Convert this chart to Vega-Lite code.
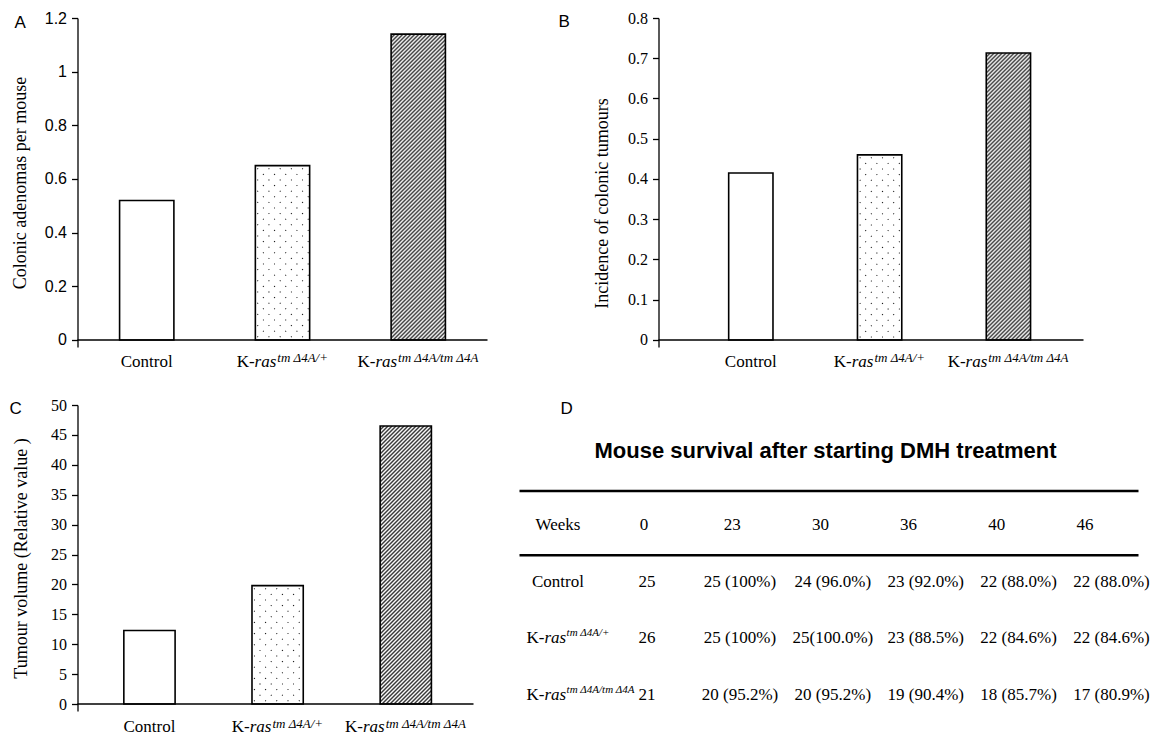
{
"$schema": "https://vega.github.io/schema/vega-lite/v6.json",
"background": "white",
"padding": {"left": 9.5, "top": 10, "right": 0, "bottom": 0},
"config": {
 "view": {"stroke": null},
 "text": {"font": "Liberation Serif", "fontSize": 17, "color": "black", "baseline": "alphabetic"},
 "axis": {"grid": false, "domainColor": "black", "domainWidth": 1.3, "tickColor": "black", "tickWidth": 1.3, "tickSize": 6, "labelPadding": 5, "labelColor": "black", "labelFlush": false, "labelFont": "Liberation Serif", "labelFontSize": 16, "titleFont": "Liberation Serif", "titleFontSize": 18, "titleFontWeight": "normal", "titleColor": "black", "minExtent": 35, "maxExtent": 35}
},
"datasets": {
 "adenomas": [{"group": "Control", "value": 0.52}, {"group": "K-ras tmΔ4A/+", "value": 0.65}, {"group": "K-ras tmΔ4A/tmΔ4A", "value": 1.14}],
 "incidence": [{"group": "Control", "value": 0.415}, {"group": "K-ras tmΔ4A/+", "value": 0.46}, {"group": "K-ras tmΔ4A/tmΔ4A", "value": 0.713}],
 "volume": [{"group": "Control", "value": 12.3}, {"group": "K-ras tmΔ4A/+", "value": 19.8}, {"group": "K-ras tmΔ4A/tmΔ4A", "value": 46.5}],
 "genotypes": [
  {"group": "Control", "prefix": "Control", "gene": "", "sup": ""},
  {"group": "K-ras tmΔ4A/+", "prefix": "K-", "gene": "ras", "sup": "tm Δ4A/+"},
  {"group": "K-ras tmΔ4A/tmΔ4A", "prefix": "K-", "gene": "ras", "sup": "tm Δ4A/tm Δ4A"}
 ],
 "survival": [
  {"group": "Control", "week": "0", "cell": "25"},
  {"group": "Control", "week": "23", "cell": "25 (100%)"},
  {"group": "Control", "week": "30", "cell": "24 (96.0%)"},
  {"group": "Control", "week": "36", "cell": "23 (92.0%)"},
  {"group": "Control", "week": "40", "cell": "22 (88.0%)"},
  {"group": "Control", "week": "46", "cell": "22 (88.0%)"},
  {"group": "K-ras tmΔ4A/+", "week": "0", "cell": "26"},
  {"group": "K-ras tmΔ4A/+", "week": "23", "cell": "25 (100%)"},
  {"group": "K-ras tmΔ4A/+", "week": "30", "cell": "25(100.0%)"},
  {"group": "K-ras tmΔ4A/+", "week": "36", "cell": "23 (88.5%)"},
  {"group": "K-ras tmΔ4A/+", "week": "40", "cell": "22 (84.6%)"},
  {"group": "K-ras tmΔ4A/+", "week": "46", "cell": "22 (84.6%)"},
  {"group": "K-ras tmΔ4A/tmΔ4A", "week": "0", "cell": "21"},
  {"group": "K-ras tmΔ4A/tmΔ4A", "week": "23", "cell": "20 (95.2%)"},
  {"group": "K-ras tmΔ4A/tmΔ4A", "week": "30", "cell": "20 (95.2%)"},
  {"group": "K-ras tmΔ4A/tmΔ4A", "week": "36", "cell": "19 (90.4%)"},
  {"group": "K-ras tmΔ4A/tmΔ4A", "week": "40", "cell": "18 (85.7%)"},
  {"group": "K-ras tmΔ4A/tmΔ4A", "week": "46", "cell": "17 (80.9%)"}
 ]
},
"spacing": 27,
"vconcat": [
{"bounds": "flush", "spacing": 171, "hconcat": [
 {"width": 410, "height": 329, "data": {"name": "adenomas"}, "layer": [
  {"transform": [{"filter": "datum.group === 'Control'"}], "mark": {"type": "bar", "fill": "white", "stroke": "black", "strokeWidth": 1.6},
   "encoding": {"x": {"field": "group", "type": "nominal", "scale": {"type": "band", "domain": ["Control", "K-ras tmΔ4A/+", "K-ras tmΔ4A/tmΔ4A"], "paddingInner": 0.6, "paddingOuter": 0.31}, "axis": null},
    "y": {"field": "value", "type": "quantitative", "scale": {"domain": [-0.0261, 1.2], "nice": false, "zero": false}, "axis": {"title": "Colonic adenomas per mouse", "values": [0, 0.2, 0.4, 0.6, 0.8, 1, 1.2], "format": "~g", "labelFont": "Liberation Sans", "titlePadding": 13.5}},
    "y2": {"datum": 0}}},
  {"transform": [{"filter": "datum.group === 'K-ras tmΔ4A/+'"}], "mark": {"type": "bar", "fill": {"gradient": "linear", "x1": 0, "y1": 1, "x2": 0.65101, "y2": -1.09088, "stops": [
{"offset":0.0105,"color":"#fff"},{"offset":0.014,"color":"#000"},{"offset":0.0175,"color":"#fff"},{"offset":0.0385,"color":"#fff"},{"offset":0.042,"color":"#000"},{"offset":0.0455,"color":"#fff"},{"offset":0.0665,"color":"#fff"},{"offset":0.07,"color":"#000"},{"offset":0.0735,"color":"#fff"},{"offset":0.0945,"color":"#fff"},{"offset":0.098,"color":"#000"},{"offset":0.1015,"color":"#fff"},{"offset":0.1225,"color":"#fff"},{"offset":0.126,"color":"#000"},{"offset":0.1295,"color":"#fff"},{"offset":0.1505,"color":"#fff"},{"offset":0.154,"color":"#000"},{"offset":0.1575,"color":"#fff"},{"offset":0.1785,"color":"#fff"},{"offset":0.182,"color":"#000"},{"offset":0.1855,"color":"#fff"},{"offset":0.2065,"color":"#fff"},{"offset":0.21,"color":"#000"},{"offset":0.2135,"color":"#fff"},{"offset":0.2345,"color":"#fff"},{"offset":0.238,"color":"#000"},{"offset":0.2415,"color":"#fff"},{"offset":0.2625,"color":"#fff"},{"offset":0.266,"color":"#000"},{"offset":0.2695,"color":"#fff"},{"offset":0.2905,"color":"#fff"},{"offset":0.294,"color":"#000"},{"offset":0.2975,"color":"#fff"},{"offset":0.3185,"color":"#fff"},{"offset":0.322,"color":"#000"},{"offset":0.3255,"color":"#fff"},{"offset":0.3465,"color":"#fff"},{"offset":0.35,"color":"#000"},{"offset":0.3535,"color":"#fff"},{"offset":0.3745,"color":"#fff"},{"offset":0.378,"color":"#000"},{"offset":0.3815,"color":"#fff"},{"offset":0.4025,"color":"#fff"},{"offset":0.406,"color":"#000"},{"offset":0.4095,"color":"#fff"},{"offset":0.4305,"color":"#fff"},{"offset":0.434,"color":"#000"},{"offset":0.4375,"color":"#fff"},{"offset":0.4585,"color":"#fff"},{"offset":0.462,"color":"#000"},{"offset":0.4655,"color":"#fff"},{"offset":0.4865,"color":"#fff"},{"offset":0.49,"color":"#000"},{"offset":0.4935,"color":"#fff"},{"offset":0.5145,"color":"#fff"},{"offset":0.518,"color":"#000"},{"offset":0.5215,"color":"#fff"},{"offset":0.5425,"color":"#fff"},{"offset":0.546,"color":"#000"},{"offset":0.5495,"color":"#fff"},{"offset":0.5705,"color":"#fff"},{"offset":0.574,"color":"#000"},{"offset":0.5775,"color":"#fff"}
]}},
   "encoding": {"x": {"field": "group", "type": "nominal", "scale": {"type": "band", "domain": ["Control", "K-ras tmΔ4A/+", "K-ras tmΔ4A/tmΔ4A"], "paddingInner": 0.6, "paddingOuter": 0.31}, "axis": null},
    "y": {"field": "value", "type": "quantitative", "scale": {"domain": [-0.0261, 1.2], "nice": false, "zero": false}, "axis": {"title": "Colonic adenomas per mouse", "values": [0, 0.2, 0.4, 0.6, 0.8, 1, 1.2], "format": "~g", "labelFont": "Liberation Sans", "titlePadding": 13.5}},
    "y2": {"datum": 0}}},
  {"transform": [{"filter": "datum.group === 'K-ras tmΔ4A/+'"}], "mark": {"type": "bar", "stroke": "black", "strokeWidth": 1.6, "fill": {"gradient": "linear", "x1": 0, "y1": 0, "x2": 0.65101, "y2": 2.09088, "stops": [
{"offset":0.0105,"color":"#fff"},{"offset":0.014,"color":"rgba(255,255,255,0)"},{"offset":0.0175,"color":"#fff"},{"offset":0.0385,"color":"#fff"},{"offset":0.042,"color":"rgba(255,255,255,0)"},{"offset":0.0455,"color":"#fff"},{"offset":0.0665,"color":"#fff"},{"offset":0.07,"color":"rgba(255,255,255,0)"},{"offset":0.0735,"color":"#fff"},{"offset":0.0945,"color":"#fff"},{"offset":0.098,"color":"rgba(255,255,255,0)"},{"offset":0.1015,"color":"#fff"},{"offset":0.1225,"color":"#fff"},{"offset":0.126,"color":"rgba(255,255,255,0)"},{"offset":0.1295,"color":"#fff"},{"offset":0.1505,"color":"#fff"},{"offset":0.154,"color":"rgba(255,255,255,0)"},{"offset":0.1575,"color":"#fff"},{"offset":0.1785,"color":"#fff"},{"offset":0.182,"color":"rgba(255,255,255,0)"},{"offset":0.1855,"color":"#fff"},{"offset":0.2065,"color":"#fff"},{"offset":0.21,"color":"rgba(255,255,255,0)"},{"offset":0.2135,"color":"#fff"},{"offset":0.2345,"color":"#fff"},{"offset":0.238,"color":"rgba(255,255,255,0)"},{"offset":0.2415,"color":"#fff"},{"offset":0.2625,"color":"#fff"},{"offset":0.266,"color":"rgba(255,255,255,0)"},{"offset":0.2695,"color":"#fff"},{"offset":0.2905,"color":"#fff"},{"offset":0.294,"color":"rgba(255,255,255,0)"},{"offset":0.2975,"color":"#fff"},{"offset":0.3185,"color":"#fff"},{"offset":0.322,"color":"rgba(255,255,255,0)"},{"offset":0.3255,"color":"#fff"},{"offset":0.3465,"color":"#fff"},{"offset":0.35,"color":"rgba(255,255,255,0)"},{"offset":0.3535,"color":"#fff"},{"offset":0.3745,"color":"#fff"},{"offset":0.378,"color":"rgba(255,255,255,0)"},{"offset":0.3815,"color":"#fff"},{"offset":0.4025,"color":"#fff"},{"offset":0.406,"color":"rgba(255,255,255,0)"},{"offset":0.4095,"color":"#fff"},{"offset":0.4305,"color":"#fff"},{"offset":0.434,"color":"rgba(255,255,255,0)"},{"offset":0.4375,"color":"#fff"},{"offset":0.4585,"color":"#fff"},{"offset":0.462,"color":"rgba(255,255,255,0)"},{"offset":0.4655,"color":"#fff"},{"offset":0.4865,"color":"#fff"},{"offset":0.49,"color":"rgba(255,255,255,0)"},{"offset":0.4935,"color":"#fff"},{"offset":0.5145,"color":"#fff"},{"offset":0.518,"color":"rgba(255,255,255,0)"},{"offset":0.5215,"color":"#fff"},{"offset":0.5425,"color":"#fff"},{"offset":0.546,"color":"rgba(255,255,255,0)"},{"offset":0.5495,"color":"#fff"},{"offset":0.5705,"color":"#fff"},{"offset":0.574,"color":"rgba(255,255,255,0)"},{"offset":0.5775,"color":"#fff"}
]}},
   "encoding": {"x": {"field": "group", "type": "nominal", "scale": {"type": "band", "domain": ["Control", "K-ras tmΔ4A/+", "K-ras tmΔ4A/tmΔ4A"], "paddingInner": 0.6, "paddingOuter": 0.31}, "axis": null},
    "y": {"field": "value", "type": "quantitative", "scale": {"domain": [-0.0261, 1.2], "nice": false, "zero": false}, "axis": {"title": "Colonic adenomas per mouse", "values": [0, 0.2, 0.4, 0.6, 0.8, 1, 1.2], "format": "~g", "labelFont": "Liberation Sans", "titlePadding": 13.5}},
    "y2": {"datum": 0}}},
  {"transform": [{"filter": "datum.group === 'K-ras tmΔ4A/tmΔ4A'"}], "mark": {"type": "bar", "stroke": "black", "strokeWidth": 1.6, "fill": {"gradient": "linear", "x1": 0, "y1": 0, "x2": 0.22502, "y2": 1.26768, "stops": [
{"offset":0,"color":"#333"},{"offset":0.005,"color":"#fff"},{"offset":0.01,"color":"#333"},{"offset":0.015,"color":"#fff"},{"offset":0.02,"color":"#333"},{"offset":0.025,"color":"#fff"},{"offset":0.03,"color":"#333"},{"offset":0.035,"color":"#fff"},{"offset":0.04,"color":"#333"},{"offset":0.045,"color":"#fff"},{"offset":0.05,"color":"#333"},{"offset":0.055,"color":"#fff"},{"offset":0.06,"color":"#333"},{"offset":0.065,"color":"#fff"},{"offset":0.07,"color":"#333"},{"offset":0.075,"color":"#fff"},{"offset":0.08,"color":"#333"},{"offset":0.085,"color":"#fff"},{"offset":0.09,"color":"#333"},{"offset":0.095,"color":"#fff"},
{"offset":0.1,"color":"#333"},{"offset":0.105,"color":"#fff"},{"offset":0.11,"color":"#333"},{"offset":0.115,"color":"#fff"},{"offset":0.12,"color":"#333"},{"offset":0.125,"color":"#fff"},{"offset":0.13,"color":"#333"},{"offset":0.135,"color":"#fff"},{"offset":0.14,"color":"#333"},{"offset":0.145,"color":"#fff"},{"offset":0.15,"color":"#333"},{"offset":0.155,"color":"#fff"},{"offset":0.16,"color":"#333"},{"offset":0.165,"color":"#fff"},{"offset":0.17,"color":"#333"},{"offset":0.175,"color":"#fff"},{"offset":0.18,"color":"#333"},{"offset":0.185,"color":"#fff"},{"offset":0.19,"color":"#333"},{"offset":0.195,"color":"#fff"},
{"offset":0.2,"color":"#333"},{"offset":0.205,"color":"#fff"},{"offset":0.21,"color":"#333"},{"offset":0.215,"color":"#fff"},{"offset":0.22,"color":"#333"},{"offset":0.225,"color":"#fff"},{"offset":0.23,"color":"#333"},{"offset":0.235,"color":"#fff"},{"offset":0.24,"color":"#333"},{"offset":0.245,"color":"#fff"},{"offset":0.25,"color":"#333"},{"offset":0.255,"color":"#fff"},{"offset":0.26,"color":"#333"},{"offset":0.265,"color":"#fff"},{"offset":0.27,"color":"#333"},{"offset":0.275,"color":"#fff"},{"offset":0.28,"color":"#333"},{"offset":0.285,"color":"#fff"},{"offset":0.29,"color":"#333"},{"offset":0.295,"color":"#fff"},
{"offset":0.3,"color":"#333"},{"offset":0.305,"color":"#fff"},{"offset":0.31,"color":"#333"},{"offset":0.315,"color":"#fff"},{"offset":0.32,"color":"#333"},{"offset":0.325,"color":"#fff"},{"offset":0.33,"color":"#333"},{"offset":0.335,"color":"#fff"},{"offset":0.34,"color":"#333"},{"offset":0.345,"color":"#fff"},{"offset":0.35,"color":"#333"},{"offset":0.355,"color":"#fff"},{"offset":0.36,"color":"#333"},{"offset":0.365,"color":"#fff"},{"offset":0.37,"color":"#333"},{"offset":0.375,"color":"#fff"},{"offset":0.38,"color":"#333"},{"offset":0.385,"color":"#fff"},{"offset":0.39,"color":"#333"},{"offset":0.395,"color":"#fff"},
{"offset":0.4,"color":"#333"},{"offset":0.405,"color":"#fff"},{"offset":0.41,"color":"#333"},{"offset":0.415,"color":"#fff"},{"offset":0.42,"color":"#333"},{"offset":0.425,"color":"#fff"},{"offset":0.43,"color":"#333"},{"offset":0.435,"color":"#fff"},{"offset":0.44,"color":"#333"},{"offset":0.445,"color":"#fff"},{"offset":0.45,"color":"#333"},{"offset":0.455,"color":"#fff"},{"offset":0.46,"color":"#333"},{"offset":0.465,"color":"#fff"},{"offset":0.47,"color":"#333"},{"offset":0.475,"color":"#fff"},{"offset":0.48,"color":"#333"},{"offset":0.485,"color":"#fff"},{"offset":0.49,"color":"#333"},{"offset":0.495,"color":"#fff"},
{"offset":0.5,"color":"#333"},{"offset":0.505,"color":"#fff"},{"offset":0.51,"color":"#333"},{"offset":0.515,"color":"#fff"},{"offset":0.52,"color":"#333"},{"offset":0.525,"color":"#fff"},{"offset":0.53,"color":"#333"},{"offset":0.535,"color":"#fff"},{"offset":0.54,"color":"#333"},{"offset":0.545,"color":"#fff"},{"offset":0.55,"color":"#333"},{"offset":0.555,"color":"#fff"},{"offset":0.56,"color":"#333"},{"offset":0.565,"color":"#fff"},{"offset":0.57,"color":"#333"},{"offset":0.575,"color":"#fff"},{"offset":0.58,"color":"#333"},{"offset":0.585,"color":"#fff"},{"offset":0.59,"color":"#333"},{"offset":0.595,"color":"#fff"},
{"offset":0.6,"color":"#333"},{"offset":0.605,"color":"#fff"},{"offset":0.61,"color":"#333"},{"offset":0.615,"color":"#fff"},{"offset":0.62,"color":"#333"},{"offset":0.625,"color":"#fff"},{"offset":0.63,"color":"#333"},{"offset":0.635,"color":"#fff"},{"offset":0.64,"color":"#333"},{"offset":0.645,"color":"#fff"},{"offset":0.65,"color":"#333"},{"offset":0.655,"color":"#fff"},{"offset":0.66,"color":"#333"},{"offset":0.665,"color":"#fff"},{"offset":0.67,"color":"#333"},{"offset":0.675,"color":"#fff"},{"offset":0.68,"color":"#333"},{"offset":0.685,"color":"#fff"},{"offset":0.69,"color":"#333"},{"offset":0.695,"color":"#fff"},
{"offset":0.7,"color":"#333"},{"offset":0.705,"color":"#fff"},{"offset":0.71,"color":"#333"},{"offset":0.715,"color":"#fff"},{"offset":0.72,"color":"#333"},{"offset":0.725,"color":"#fff"},{"offset":0.73,"color":"#333"},{"offset":0.735,"color":"#fff"},{"offset":0.74,"color":"#333"},{"offset":0.745,"color":"#fff"},{"offset":0.75,"color":"#333"},{"offset":0.755,"color":"#fff"},{"offset":0.76,"color":"#333"},{"offset":0.765,"color":"#fff"},{"offset":0.77,"color":"#333"},{"offset":0.775,"color":"#fff"},{"offset":0.78,"color":"#333"},{"offset":0.785,"color":"#fff"},{"offset":0.79,"color":"#333"},{"offset":0.795,"color":"#fff"},
{"offset":0.8,"color":"#333"},{"offset":0.805,"color":"#fff"},{"offset":0.81,"color":"#333"},{"offset":0.815,"color":"#fff"},{"offset":0.82,"color":"#333"},{"offset":0.825,"color":"#fff"},{"offset":0.83,"color":"#333"},{"offset":0.835,"color":"#fff"},{"offset":0.84,"color":"#333"},{"offset":0.845,"color":"#fff"},{"offset":0.85,"color":"#333"},{"offset":0.855,"color":"#fff"},{"offset":0.86,"color":"#333"},{"offset":0.865,"color":"#fff"},{"offset":0.87,"color":"#333"},{"offset":0.875,"color":"#fff"},{"offset":0.88,"color":"#333"},{"offset":0.885,"color":"#fff"},{"offset":0.89,"color":"#333"},{"offset":0.895,"color":"#fff"},
{"offset":0.9,"color":"#333"},{"offset":0.905,"color":"#fff"}
]}},
   "encoding": {"x": {"field": "group", "type": "nominal", "scale": {"type": "band", "domain": ["Control", "K-ras tmΔ4A/+", "K-ras tmΔ4A/tmΔ4A"], "paddingInner": 0.6, "paddingOuter": 0.31}, "axis": null},
    "y": {"field": "value", "type": "quantitative", "scale": {"domain": [-0.0261, 1.2], "nice": false, "zero": false}, "axis": {"title": "Colonic adenomas per mouse", "values": [0, 0.2, 0.4, 0.6, 0.8, 1, 1.2], "format": "~g", "labelFont": "Liberation Sans", "titlePadding": 13.5}},
    "y2": {"datum": 0}}},
  {"transform": [{"aggregate": [{"op": "count", "as": "n"}]}], "mark": {"type": "rule", "color": "black", "strokeWidth": 1.3},
   "encoding": {"y": {"datum": 0, "type": "quantitative", "scale": {"domain": [-0.0261, 1.2], "nice": false, "zero": false}, "axis": {"title": "Colonic adenomas per mouse", "values": [0, 0.2, 0.4, 0.6, 0.8, 1, 1.2], "format": "~g", "labelFont": "Liberation Sans", "titlePadding": 13.5}}}},
  {"transform": [{"aggregate": [{"op": "count", "as": "n"}]}], "mark": {"type": "text", "text": "A", "font": "Liberation Sans", "align": "left", "dx": -132.25, "dy": 10},
   "encoding": {"x": {"datum": "Control", "type": "nominal", "scale": {"type": "band", "domain": ["Control", "K-ras tmΔ4A/+", "K-ras tmΔ4A/tmΔ4A"], "paddingInner": 0.6, "paddingOuter": 0.31}, "axis": null},
    "y": {"datum": 1.2, "type": "quantitative", "scale": {"domain": [-0.0261, 1.2], "nice": false, "zero": false}, "axis": {"title": "Colonic adenomas per mouse", "values": [0, 0.2, 0.4, 0.6, 0.8, 1, 1.2], "format": "~g", "labelFont": "Liberation Sans", "titlePadding": 13.5}}}},
  {"data": {"name": "genotypes"}, "transform": [{"filter": "datum.group === 'Control'"}], "mark": {"type": "text", "align": "center", "dy": 27},
   "encoding": {"x": {"field": "group", "type": "nominal", "scale": {"type": "band", "domain": ["Control", "K-ras tmΔ4A/+", "K-ras tmΔ4A/tmΔ4A"], "paddingInner": 0.6, "paddingOuter": 0.31}, "axis": null},
    "y": {"datum": 0, "type": "quantitative", "scale": {"domain": [-0.0261, 1.2], "nice": false, "zero": false}, "axis": {"title": "Colonic adenomas per mouse", "values": [0, 0.2, 0.4, 0.6, 0.8, 1, 1.2], "format": "~g", "labelFont": "Liberation Sans", "titlePadding": 13.5}}, "text": {"field": "prefix"}}},
  {"data": {"name": "genotypes"}, "transform": [{"filter": "datum.group === 'K-ras tmΔ4A/+'"}], "mark": {"type": "text", "align": "left", "dx": -45.8, "dy": 27},
   "encoding": {"x": {"field": "group", "type": "nominal", "scale": {"type": "band", "domain": ["Control", "K-ras tmΔ4A/+", "K-ras tmΔ4A/tmΔ4A"], "paddingInner": 0.6, "paddingOuter": 0.31}, "axis": null},
    "y": {"datum": 0, "type": "quantitative", "scale": {"domain": [-0.0261, 1.2], "nice": false, "zero": false}, "axis": {"title": "Colonic adenomas per mouse", "values": [0, 0.2, 0.4, 0.6, 0.8, 1, 1.2], "format": "~g", "labelFont": "Liberation Sans", "titlePadding": 13.5}}, "text": {"field": "prefix"}}},
  {"data": {"name": "genotypes"}, "transform": [{"filter": "datum.group === 'K-ras tmΔ4A/+'"}], "mark": {"type": "text", "align": "left", "fontStyle": "italic", "dx": -27.9, "dy": 27},
   "encoding": {"x": {"field": "group", "type": "nominal", "scale": {"type": "band", "domain": ["Control", "K-ras tmΔ4A/+", "K-ras tmΔ4A/tmΔ4A"], "paddingInner": 0.6, "paddingOuter": 0.31}, "axis": null},
    "y": {"datum": 0, "type": "quantitative", "scale": {"domain": [-0.0261, 1.2], "nice": false, "zero": false}, "axis": {"title": "Colonic adenomas per mouse", "values": [0, 0.2, 0.4, 0.6, 0.8, 1, 1.2], "format": "~g", "labelFont": "Liberation Sans", "titlePadding": 13.5}}, "text": {"field": "gene"}}},
  {"data": {"name": "genotypes"}, "transform": [{"filter": "datum.group === 'K-ras tmΔ4A/+'"}], "mark": {"type": "text", "align": "left", "fontStyle": "italic", "fontSize": 13, "dx": -5.2, "dy": 22.5},
   "encoding": {"x": {"field": "group", "type": "nominal", "scale": {"type": "band", "domain": ["Control", "K-ras tmΔ4A/+", "K-ras tmΔ4A/tmΔ4A"], "paddingInner": 0.6, "paddingOuter": 0.31}, "axis": null},
    "y": {"datum": 0, "type": "quantitative", "scale": {"domain": [-0.0261, 1.2], "nice": false, "zero": false}, "axis": {"title": "Colonic adenomas per mouse", "values": [0, 0.2, 0.4, 0.6, 0.8, 1, 1.2], "format": "~g", "labelFont": "Liberation Sans", "titlePadding": 13.5}}, "text": {"field": "sup"}}},
  {"data": {"name": "genotypes"}, "transform": [{"filter": "datum.group === 'K-ras tmΔ4A/tmΔ4A'"}], "mark": {"type": "text", "align": "left", "dx": -60.75, "dy": 27},
   "encoding": {"x": {"field": "group", "type": "nominal", "scale": {"type": "band", "domain": ["Control", "K-ras tmΔ4A/+", "K-ras tmΔ4A/tmΔ4A"], "paddingInner": 0.6, "paddingOuter": 0.31}, "axis": null},
    "y": {"datum": 0, "type": "quantitative", "scale": {"domain": [-0.0261, 1.2], "nice": false, "zero": false}, "axis": {"title": "Colonic adenomas per mouse", "values": [0, 0.2, 0.4, 0.6, 0.8, 1, 1.2], "format": "~g", "labelFont": "Liberation Sans", "titlePadding": 13.5}}, "text": {"field": "prefix"}}},
  {"data": {"name": "genotypes"}, "transform": [{"filter": "datum.group === 'K-ras tmΔ4A/tmΔ4A'"}], "mark": {"type": "text", "align": "left", "fontStyle": "italic", "dx": -42.85, "dy": 27},
   "encoding": {"x": {"field": "group", "type": "nominal", "scale": {"type": "band", "domain": ["Control", "K-ras tmΔ4A/+", "K-ras tmΔ4A/tmΔ4A"], "paddingInner": 0.6, "paddingOuter": 0.31}, "axis": null},
    "y": {"datum": 0, "type": "quantitative", "scale": {"domain": [-0.0261, 1.2], "nice": false, "zero": false}, "axis": {"title": "Colonic adenomas per mouse", "values": [0, 0.2, 0.4, 0.6, 0.8, 1, 1.2], "format": "~g", "labelFont": "Liberation Sans", "titlePadding": 13.5}}, "text": {"field": "gene"}}},
  {"data": {"name": "genotypes"}, "transform": [{"filter": "datum.group === 'K-ras tmΔ4A/tmΔ4A'"}], "mark": {"type": "text", "align": "left", "fontStyle": "italic", "fontSize": 13, "dx": -20.15, "dy": 22.5},
   "encoding": {"x": {"field": "group", "type": "nominal", "scale": {"type": "band", "domain": ["Control", "K-ras tmΔ4A/+", "K-ras tmΔ4A/tmΔ4A"], "paddingInner": 0.6, "paddingOuter": 0.31}, "axis": null},
    "y": {"datum": 0, "type": "quantitative", "scale": {"domain": [-0.0261, 1.2], "nice": false, "zero": false}, "axis": {"title": "Colonic adenomas per mouse", "values": [0, 0.2, 0.4, 0.6, 0.8, 1, 1.2], "format": "~g", "labelFont": "Liberation Sans", "titlePadding": 13.5}}, "text": {"field": "sup"}}}
 ]},
 {"width": 425, "height": 329, "data": {"name": "incidence"}, "layer": [
  {"transform": [{"filter": "datum.group === 'Control'"}], "mark": {"type": "bar", "fill": "white", "stroke": "black", "strokeWidth": 1.6},
   "encoding": {"x": {"field": "group", "type": "nominal", "scale": {"type": "band", "domain": ["Control", "K-ras tmΔ4A/+", "K-ras tmΔ4A/tmΔ4A"], "paddingInner": 0.656, "paddingOuter": 0.478, "align": 0.57}, "axis": null},
    "y": {"field": "value", "type": "quantitative", "scale": {"domain": [-0.0174, 0.8], "nice": false, "zero": false}, "axis": {"title": "Incidence of colonic tumours", "values": [0, 0.1, 0.2, 0.3, 0.4, 0.5, 0.6, 0.7, 0.8], "format": "~g", "titlePadding": 12, "titleY": 185}},
    "y2": {"datum": 0}}},
  {"transform": [{"filter": "datum.group === 'K-ras tmΔ4A/+'"}], "mark": {"type": "bar", "fill": {"gradient": "linear", "x1": 0, "y1": 1, "x2": 0.48893, "y2": -1.0435, "stops": [
{"offset":0.0105,"color":"#fff"},{"offset":0.014,"color":"#000"},{"offset":0.0175,"color":"#fff"},{"offset":0.0385,"color":"#fff"},{"offset":0.042,"color":"#000"},{"offset":0.0455,"color":"#fff"},{"offset":0.0665,"color":"#fff"},{"offset":0.07,"color":"#000"},{"offset":0.0735,"color":"#fff"},{"offset":0.0945,"color":"#fff"},{"offset":0.098,"color":"#000"},{"offset":0.1015,"color":"#fff"},{"offset":0.1225,"color":"#fff"},{"offset":0.126,"color":"#000"},{"offset":0.1295,"color":"#fff"},{"offset":0.1505,"color":"#fff"},{"offset":0.154,"color":"#000"},{"offset":0.1575,"color":"#fff"},{"offset":0.1785,"color":"#fff"},{"offset":0.182,"color":"#000"},{"offset":0.1855,"color":"#fff"},{"offset":0.2065,"color":"#fff"},{"offset":0.21,"color":"#000"},{"offset":0.2135,"color":"#fff"},{"offset":0.2345,"color":"#fff"},{"offset":0.238,"color":"#000"},{"offset":0.2415,"color":"#fff"},{"offset":0.2625,"color":"#fff"},{"offset":0.266,"color":"#000"},{"offset":0.2695,"color":"#fff"},{"offset":0.2905,"color":"#fff"},{"offset":0.294,"color":"#000"},{"offset":0.2975,"color":"#fff"},{"offset":0.3185,"color":"#fff"},{"offset":0.322,"color":"#000"},{"offset":0.3255,"color":"#fff"},{"offset":0.3465,"color":"#fff"},{"offset":0.35,"color":"#000"},{"offset":0.3535,"color":"#fff"},{"offset":0.3745,"color":"#fff"},{"offset":0.378,"color":"#000"},{"offset":0.3815,"color":"#fff"},{"offset":0.4025,"color":"#fff"},{"offset":0.406,"color":"#000"},{"offset":0.4095,"color":"#fff"},{"offset":0.4305,"color":"#fff"},{"offset":0.434,"color":"#000"},{"offset":0.4375,"color":"#fff"},{"offset":0.4585,"color":"#fff"},{"offset":0.462,"color":"#000"},{"offset":0.4655,"color":"#fff"},{"offset":0.4865,"color":"#fff"},{"offset":0.49,"color":"#000"},{"offset":0.4935,"color":"#fff"},{"offset":0.5145,"color":"#fff"},{"offset":0.518,"color":"#000"},{"offset":0.5215,"color":"#fff"},{"offset":0.5425,"color":"#fff"},{"offset":0.546,"color":"#000"},{"offset":0.5495,"color":"#fff"},{"offset":0.5705,"color":"#fff"},{"offset":0.574,"color":"#000"},{"offset":0.5775,"color":"#fff"}
]}},
   "encoding": {"x": {"field": "group", "type": "nominal", "scale": {"type": "band", "domain": ["Control", "K-ras tmΔ4A/+", "K-ras tmΔ4A/tmΔ4A"], "paddingInner": 0.656, "paddingOuter": 0.478, "align": 0.57}, "axis": null},
    "y": {"field": "value", "type": "quantitative", "scale": {"domain": [-0.0174, 0.8], "nice": false, "zero": false}, "axis": {"title": "Incidence of colonic tumours", "values": [0, 0.1, 0.2, 0.3, 0.4, 0.5, 0.6, 0.7, 0.8], "format": "~g", "titlePadding": 12, "titleY": 185}},
    "y2": {"datum": 0}}},
  {"transform": [{"filter": "datum.group === 'K-ras tmΔ4A/+'"}], "mark": {"type": "bar", "stroke": "black", "strokeWidth": 1.6, "fill": {"gradient": "linear", "x1": 0, "y1": 0, "x2": 0.48893, "y2": 2.0435, "stops": [
{"offset":0.0105,"color":"#fff"},{"offset":0.014,"color":"rgba(255,255,255,0)"},{"offset":0.0175,"color":"#fff"},{"offset":0.0385,"color":"#fff"},{"offset":0.042,"color":"rgba(255,255,255,0)"},{"offset":0.0455,"color":"#fff"},{"offset":0.0665,"color":"#fff"},{"offset":0.07,"color":"rgba(255,255,255,0)"},{"offset":0.0735,"color":"#fff"},{"offset":0.0945,"color":"#fff"},{"offset":0.098,"color":"rgba(255,255,255,0)"},{"offset":0.1015,"color":"#fff"},{"offset":0.1225,"color":"#fff"},{"offset":0.126,"color":"rgba(255,255,255,0)"},{"offset":0.1295,"color":"#fff"},{"offset":0.1505,"color":"#fff"},{"offset":0.154,"color":"rgba(255,255,255,0)"},{"offset":0.1575,"color":"#fff"},{"offset":0.1785,"color":"#fff"},{"offset":0.182,"color":"rgba(255,255,255,0)"},{"offset":0.1855,"color":"#fff"},{"offset":0.2065,"color":"#fff"},{"offset":0.21,"color":"rgba(255,255,255,0)"},{"offset":0.2135,"color":"#fff"},{"offset":0.2345,"color":"#fff"},{"offset":0.238,"color":"rgba(255,255,255,0)"},{"offset":0.2415,"color":"#fff"},{"offset":0.2625,"color":"#fff"},{"offset":0.266,"color":"rgba(255,255,255,0)"},{"offset":0.2695,"color":"#fff"},{"offset":0.2905,"color":"#fff"},{"offset":0.294,"color":"rgba(255,255,255,0)"},{"offset":0.2975,"color":"#fff"},{"offset":0.3185,"color":"#fff"},{"offset":0.322,"color":"rgba(255,255,255,0)"},{"offset":0.3255,"color":"#fff"},{"offset":0.3465,"color":"#fff"},{"offset":0.35,"color":"rgba(255,255,255,0)"},{"offset":0.3535,"color":"#fff"},{"offset":0.3745,"color":"#fff"},{"offset":0.378,"color":"rgba(255,255,255,0)"},{"offset":0.3815,"color":"#fff"},{"offset":0.4025,"color":"#fff"},{"offset":0.406,"color":"rgba(255,255,255,0)"},{"offset":0.4095,"color":"#fff"},{"offset":0.4305,"color":"#fff"},{"offset":0.434,"color":"rgba(255,255,255,0)"},{"offset":0.4375,"color":"#fff"},{"offset":0.4585,"color":"#fff"},{"offset":0.462,"color":"rgba(255,255,255,0)"},{"offset":0.4655,"color":"#fff"},{"offset":0.4865,"color":"#fff"},{"offset":0.49,"color":"rgba(255,255,255,0)"},{"offset":0.4935,"color":"#fff"},{"offset":0.5145,"color":"#fff"},{"offset":0.518,"color":"rgba(255,255,255,0)"},{"offset":0.5215,"color":"#fff"},{"offset":0.5425,"color":"#fff"},{"offset":0.546,"color":"rgba(255,255,255,0)"},{"offset":0.5495,"color":"#fff"},{"offset":0.5705,"color":"#fff"},{"offset":0.574,"color":"rgba(255,255,255,0)"},{"offset":0.5775,"color":"#fff"}
]}},
   "encoding": {"x": {"field": "group", "type": "nominal", "scale": {"type": "band", "domain": ["Control", "K-ras tmΔ4A/+", "K-ras tmΔ4A/tmΔ4A"], "paddingInner": 0.656, "paddingOuter": 0.478, "align": 0.57}, "axis": null},
    "y": {"field": "value", "type": "quantitative", "scale": {"domain": [-0.0174, 0.8], "nice": false, "zero": false}, "axis": {"title": "Incidence of colonic tumours", "values": [0, 0.1, 0.2, 0.3, 0.4, 0.5, 0.6, 0.7, 0.8], "format": "~g", "titlePadding": 12, "titleY": 185}},
    "y2": {"datum": 0}}},
  {"transform": [{"filter": "datum.group === 'K-ras tmΔ4A/tmΔ4A'"}], "mark": {"type": "bar", "stroke": "black", "strokeWidth": 1.6, "fill": {"gradient": "linear", "x1": 0, "y1": 0, "x2": 0.21012, "y2": 1.3613, "stops": [
{"offset":0,"color":"#333"},{"offset":0.005,"color":"#fff"},{"offset":0.01,"color":"#333"},{"offset":0.015,"color":"#fff"},{"offset":0.02,"color":"#333"},{"offset":0.025,"color":"#fff"},{"offset":0.03,"color":"#333"},{"offset":0.035,"color":"#fff"},{"offset":0.04,"color":"#333"},{"offset":0.045,"color":"#fff"},{"offset":0.05,"color":"#333"},{"offset":0.055,"color":"#fff"},{"offset":0.06,"color":"#333"},{"offset":0.065,"color":"#fff"},{"offset":0.07,"color":"#333"},{"offset":0.075,"color":"#fff"},{"offset":0.08,"color":"#333"},{"offset":0.085,"color":"#fff"},{"offset":0.09,"color":"#333"},{"offset":0.095,"color":"#fff"},
{"offset":0.1,"color":"#333"},{"offset":0.105,"color":"#fff"},{"offset":0.11,"color":"#333"},{"offset":0.115,"color":"#fff"},{"offset":0.12,"color":"#333"},{"offset":0.125,"color":"#fff"},{"offset":0.13,"color":"#333"},{"offset":0.135,"color":"#fff"},{"offset":0.14,"color":"#333"},{"offset":0.145,"color":"#fff"},{"offset":0.15,"color":"#333"},{"offset":0.155,"color":"#fff"},{"offset":0.16,"color":"#333"},{"offset":0.165,"color":"#fff"},{"offset":0.17,"color":"#333"},{"offset":0.175,"color":"#fff"},{"offset":0.18,"color":"#333"},{"offset":0.185,"color":"#fff"},{"offset":0.19,"color":"#333"},{"offset":0.195,"color":"#fff"},
{"offset":0.2,"color":"#333"},{"offset":0.205,"color":"#fff"},{"offset":0.21,"color":"#333"},{"offset":0.215,"color":"#fff"},{"offset":0.22,"color":"#333"},{"offset":0.225,"color":"#fff"},{"offset":0.23,"color":"#333"},{"offset":0.235,"color":"#fff"},{"offset":0.24,"color":"#333"},{"offset":0.245,"color":"#fff"},{"offset":0.25,"color":"#333"},{"offset":0.255,"color":"#fff"},{"offset":0.26,"color":"#333"},{"offset":0.265,"color":"#fff"},{"offset":0.27,"color":"#333"},{"offset":0.275,"color":"#fff"},{"offset":0.28,"color":"#333"},{"offset":0.285,"color":"#fff"},{"offset":0.29,"color":"#333"},{"offset":0.295,"color":"#fff"},
{"offset":0.3,"color":"#333"},{"offset":0.305,"color":"#fff"},{"offset":0.31,"color":"#333"},{"offset":0.315,"color":"#fff"},{"offset":0.32,"color":"#333"},{"offset":0.325,"color":"#fff"},{"offset":0.33,"color":"#333"},{"offset":0.335,"color":"#fff"},{"offset":0.34,"color":"#333"},{"offset":0.345,"color":"#fff"},{"offset":0.35,"color":"#333"},{"offset":0.355,"color":"#fff"},{"offset":0.36,"color":"#333"},{"offset":0.365,"color":"#fff"},{"offset":0.37,"color":"#333"},{"offset":0.375,"color":"#fff"},{"offset":0.38,"color":"#333"},{"offset":0.385,"color":"#fff"},{"offset":0.39,"color":"#333"},{"offset":0.395,"color":"#fff"},
{"offset":0.4,"color":"#333"},{"offset":0.405,"color":"#fff"},{"offset":0.41,"color":"#333"},{"offset":0.415,"color":"#fff"},{"offset":0.42,"color":"#333"},{"offset":0.425,"color":"#fff"},{"offset":0.43,"color":"#333"},{"offset":0.435,"color":"#fff"},{"offset":0.44,"color":"#333"},{"offset":0.445,"color":"#fff"},{"offset":0.45,"color":"#333"},{"offset":0.455,"color":"#fff"},{"offset":0.46,"color":"#333"},{"offset":0.465,"color":"#fff"},{"offset":0.47,"color":"#333"},{"offset":0.475,"color":"#fff"},{"offset":0.48,"color":"#333"},{"offset":0.485,"color":"#fff"},{"offset":0.49,"color":"#333"},{"offset":0.495,"color":"#fff"},
{"offset":0.5,"color":"#333"},{"offset":0.505,"color":"#fff"},{"offset":0.51,"color":"#333"},{"offset":0.515,"color":"#fff"},{"offset":0.52,"color":"#333"},{"offset":0.525,"color":"#fff"},{"offset":0.53,"color":"#333"},{"offset":0.535,"color":"#fff"},{"offset":0.54,"color":"#333"},{"offset":0.545,"color":"#fff"},{"offset":0.55,"color":"#333"},{"offset":0.555,"color":"#fff"},{"offset":0.56,"color":"#333"},{"offset":0.565,"color":"#fff"},{"offset":0.57,"color":"#333"},{"offset":0.575,"color":"#fff"},{"offset":0.58,"color":"#333"},{"offset":0.585,"color":"#fff"},{"offset":0.59,"color":"#333"},{"offset":0.595,"color":"#fff"},
{"offset":0.6,"color":"#333"},{"offset":0.605,"color":"#fff"},{"offset":0.61,"color":"#333"},{"offset":0.615,"color":"#fff"},{"offset":0.62,"color":"#333"},{"offset":0.625,"color":"#fff"},{"offset":0.63,"color":"#333"},{"offset":0.635,"color":"#fff"},{"offset":0.64,"color":"#333"},{"offset":0.645,"color":"#fff"},{"offset":0.65,"color":"#333"},{"offset":0.655,"color":"#fff"},{"offset":0.66,"color":"#333"},{"offset":0.665,"color":"#fff"},{"offset":0.67,"color":"#333"},{"offset":0.675,"color":"#fff"},{"offset":0.68,"color":"#333"},{"offset":0.685,"color":"#fff"},{"offset":0.69,"color":"#333"},{"offset":0.695,"color":"#fff"},
{"offset":0.7,"color":"#333"},{"offset":0.705,"color":"#fff"},{"offset":0.71,"color":"#333"},{"offset":0.715,"color":"#fff"},{"offset":0.72,"color":"#333"},{"offset":0.725,"color":"#fff"},{"offset":0.73,"color":"#333"},{"offset":0.735,"color":"#fff"},{"offset":0.74,"color":"#333"},{"offset":0.745,"color":"#fff"},{"offset":0.75,"color":"#333"},{"offset":0.755,"color":"#fff"},{"offset":0.76,"color":"#333"},{"offset":0.765,"color":"#fff"},{"offset":0.77,"color":"#333"},{"offset":0.775,"color":"#fff"},{"offset":0.78,"color":"#333"},{"offset":0.785,"color":"#fff"},{"offset":0.79,"color":"#333"},{"offset":0.795,"color":"#fff"},
{"offset":0.8,"color":"#333"},{"offset":0.805,"color":"#fff"},{"offset":0.81,"color":"#333"},{"offset":0.815,"color":"#fff"},{"offset":0.82,"color":"#333"},{"offset":0.825,"color":"#fff"},{"offset":0.83,"color":"#333"}
]}},
   "encoding": {"x": {"field": "group", "type": "nominal", "scale": {"type": "band", "domain": ["Control", "K-ras tmΔ4A/+", "K-ras tmΔ4A/tmΔ4A"], "paddingInner": 0.656, "paddingOuter": 0.478, "align": 0.57}, "axis": null},
    "y": {"field": "value", "type": "quantitative", "scale": {"domain": [-0.0174, 0.8], "nice": false, "zero": false}, "axis": {"title": "Incidence of colonic tumours", "values": [0, 0.1, 0.2, 0.3, 0.4, 0.5, 0.6, 0.7, 0.8], "format": "~g", "titlePadding": 12, "titleY": 185}},
    "y2": {"datum": 0}}},
  {"transform": [{"aggregate": [{"op": "count", "as": "n"}]}], "mark": {"type": "rule", "color": "black", "strokeWidth": 1.3},
   "encoding": {"y": {"datum": 0, "type": "quantitative", "scale": {"domain": [-0.0174, 0.8], "nice": false, "zero": false}, "axis": {"title": "Incidence of colonic tumours", "values": [0, 0.1, 0.2, 0.3, 0.4, 0.5, 0.6, 0.7, 0.8], "format": "~g", "titlePadding": 12, "titleY": 185}}}},
  {"transform": [{"aggregate": [{"op": "count", "as": "n"}]}], "mark": {"type": "text", "text": "B", "font": "Liberation Sans", "align": "left", "dx": -192.3, "dy": 9},
   "encoding": {"x": {"datum": "Control", "type": "nominal", "scale": {"type": "band", "domain": ["Control", "K-ras tmΔ4A/+", "K-ras tmΔ4A/tmΔ4A"], "paddingInner": 0.656, "paddingOuter": 0.478, "align": 0.57}, "axis": null},
    "y": {"datum": 0.8, "type": "quantitative", "scale": {"domain": [-0.0174, 0.8], "nice": false, "zero": false}, "axis": {"title": "Incidence of colonic tumours", "values": [0, 0.1, 0.2, 0.3, 0.4, 0.5, 0.6, 0.7, 0.8], "format": "~g", "titlePadding": 12, "titleY": 185}}}},
  {"data": {"name": "genotypes"}, "transform": [{"filter": "datum.group === 'Control'"}], "mark": {"type": "text", "align": "center", "dy": 27},
   "encoding": {"x": {"field": "group", "type": "nominal", "scale": {"type": "band", "domain": ["Control", "K-ras tmΔ4A/+", "K-ras tmΔ4A/tmΔ4A"], "paddingInner": 0.656, "paddingOuter": 0.478, "align": 0.57}, "axis": null},
    "y": {"datum": 0, "type": "quantitative", "scale": {"domain": [-0.0174, 0.8], "nice": false, "zero": false}, "axis": {"title": "Incidence of colonic tumours", "values": [0, 0.1, 0.2, 0.3, 0.4, 0.5, 0.6, 0.7, 0.8], "format": "~g", "titlePadding": 12, "titleY": 185}}, "text": {"field": "prefix"}}},
  {"data": {"name": "genotypes"}, "transform": [{"filter": "datum.group === 'K-ras tmΔ4A/+'"}], "mark": {"type": "text", "align": "left", "dx": -45.8, "dy": 27},
   "encoding": {"x": {"field": "group", "type": "nominal", "scale": {"type": "band", "domain": ["Control", "K-ras tmΔ4A/+", "K-ras tmΔ4A/tmΔ4A"], "paddingInner": 0.656, "paddingOuter": 0.478, "align": 0.57}, "axis": null},
    "y": {"datum": 0, "type": "quantitative", "scale": {"domain": [-0.0174, 0.8], "nice": false, "zero": false}, "axis": {"title": "Incidence of colonic tumours", "values": [0, 0.1, 0.2, 0.3, 0.4, 0.5, 0.6, 0.7, 0.8], "format": "~g", "titlePadding": 12, "titleY": 185}}, "text": {"field": "prefix"}}},
  {"data": {"name": "genotypes"}, "transform": [{"filter": "datum.group === 'K-ras tmΔ4A/+'"}], "mark": {"type": "text", "align": "left", "fontStyle": "italic", "dx": -27.9, "dy": 27},
   "encoding": {"x": {"field": "group", "type": "nominal", "scale": {"type": "band", "domain": ["Control", "K-ras tmΔ4A/+", "K-ras tmΔ4A/tmΔ4A"], "paddingInner": 0.656, "paddingOuter": 0.478, "align": 0.57}, "axis": null},
    "y": {"datum": 0, "type": "quantitative", "scale": {"domain": [-0.0174, 0.8], "nice": false, "zero": false}, "axis": {"title": "Incidence of colonic tumours", "values": [0, 0.1, 0.2, 0.3, 0.4, 0.5, 0.6, 0.7, 0.8], "format": "~g", "titlePadding": 12, "titleY": 185}}, "text": {"field": "gene"}}},
  {"data": {"name": "genotypes"}, "transform": [{"filter": "datum.group === 'K-ras tmΔ4A/+'"}], "mark": {"type": "text", "align": "left", "fontStyle": "italic", "fontSize": 13, "dx": -5.2, "dy": 22.5},
   "encoding": {"x": {"field": "group", "type": "nominal", "scale": {"type": "band", "domain": ["Control", "K-ras tmΔ4A/+", "K-ras tmΔ4A/tmΔ4A"], "paddingInner": 0.656, "paddingOuter": 0.478, "align": 0.57}, "axis": null},
    "y": {"datum": 0, "type": "quantitative", "scale": {"domain": [-0.0174, 0.8], "nice": false, "zero": false}, "axis": {"title": "Incidence of colonic tumours", "values": [0, 0.1, 0.2, 0.3, 0.4, 0.5, 0.6, 0.7, 0.8], "format": "~g", "titlePadding": 12, "titleY": 185}}, "text": {"field": "sup"}}},
  {"data": {"name": "genotypes"}, "transform": [{"filter": "datum.group === 'K-ras tmΔ4A/tmΔ4A'"}], "mark": {"type": "text", "align": "left", "dx": -60.75, "dy": 27},
   "encoding": {"x": {"field": "group", "type": "nominal", "scale": {"type": "band", "domain": ["Control", "K-ras tmΔ4A/+", "K-ras tmΔ4A/tmΔ4A"], "paddingInner": 0.656, "paddingOuter": 0.478, "align": 0.57}, "axis": null},
    "y": {"datum": 0, "type": "quantitative", "scale": {"domain": [-0.0174, 0.8], "nice": false, "zero": false}, "axis": {"title": "Incidence of colonic tumours", "values": [0, 0.1, 0.2, 0.3, 0.4, 0.5, 0.6, 0.7, 0.8], "format": "~g", "titlePadding": 12, "titleY": 185}}, "text": {"field": "prefix"}}},
  {"data": {"name": "genotypes"}, "transform": [{"filter": "datum.group === 'K-ras tmΔ4A/tmΔ4A'"}], "mark": {"type": "text", "align": "left", "fontStyle": "italic", "dx": -42.85, "dy": 27},
   "encoding": {"x": {"field": "group", "type": "nominal", "scale": {"type": "band", "domain": ["Control", "K-ras tmΔ4A/+", "K-ras tmΔ4A/tmΔ4A"], "paddingInner": 0.656, "paddingOuter": 0.478, "align": 0.57}, "axis": null},
    "y": {"datum": 0, "type": "quantitative", "scale": {"domain": [-0.0174, 0.8], "nice": false, "zero": false}, "axis": {"title": "Incidence of colonic tumours", "values": [0, 0.1, 0.2, 0.3, 0.4, 0.5, 0.6, 0.7, 0.8], "format": "~g", "titlePadding": 12, "titleY": 185}}, "text": {"field": "gene"}}},
  {"data": {"name": "genotypes"}, "transform": [{"filter": "datum.group === 'K-ras tmΔ4A/tmΔ4A'"}], "mark": {"type": "text", "align": "left", "fontStyle": "italic", "fontSize": 13, "dx": -20.15, "dy": 22.5},
   "encoding": {"x": {"field": "group", "type": "nominal", "scale": {"type": "band", "domain": ["Control", "K-ras tmΔ4A/+", "K-ras tmΔ4A/tmΔ4A"], "paddingInner": 0.656, "paddingOuter": 0.478, "align": 0.57}, "axis": null},
    "y": {"datum": 0, "type": "quantitative", "scale": {"domain": [-0.0174, 0.8], "nice": false, "zero": false}, "axis": {"title": "Incidence of colonic tumours", "values": [0, 0.1, 0.2, 0.3, 0.4, 0.5, 0.6, 0.7, 0.8], "format": "~g", "titlePadding": 12, "titleY": 185}}, "text": {"field": "sup"}}}
 ]}
]},
{"bounds": "flush", "spacing": 46, "hconcat": [
 {"width": 396, "height": 306, "data": {"name": "volume"}, "layer": [
  {"transform": [{"filter": "datum.group === 'Control'"}], "mark": {"type": "bar", "fill": "white", "stroke": "black", "strokeWidth": 1.6},
   "encoding": {"x": {"field": "group", "type": "nominal", "scale": {"type": "band", "domain": ["Control", "K-ras tmΔ4A/+", "K-ras tmΔ4A/tmΔ4A"], "paddingInner": 0.6, "paddingOuter": 0.345, "align": 0.524}, "axis": null},
    "y": {"field": "value", "type": "quantitative", "scale": {"domain": [-1.17, 50], "nice": false, "zero": false}, "axis": {"title": "Tumour volume (Relative value )", "values": [0, 5, 10, 15, 20, 25, 30, 35, 40, 45, 50], "titlePadding": 12}},
    "y2": {"datum": 0}}},
  {"transform": [{"filter": "datum.group === 'K-ras tmΔ4A/+'"}], "mark": {"type": "bar", "fill": {"gradient": "linear", "x1": 0, "y1": 1, "x2": 1.23177, "y2": -1.84515, "stops": [
{"offset":0.0105,"color":"#fff"},{"offset":0.014,"color":"#000"},{"offset":0.0175,"color":"#fff"},{"offset":0.0385,"color":"#fff"},{"offset":0.042,"color":"#000"},{"offset":0.0455,"color":"#fff"},{"offset":0.0665,"color":"#fff"},{"offset":0.07,"color":"#000"},{"offset":0.0735,"color":"#fff"},{"offset":0.0945,"color":"#fff"},{"offset":0.098,"color":"#000"},{"offset":0.1015,"color":"#fff"},{"offset":0.1225,"color":"#fff"},{"offset":0.126,"color":"#000"},{"offset":0.1295,"color":"#fff"},{"offset":0.1505,"color":"#fff"},{"offset":0.154,"color":"#000"},{"offset":0.1575,"color":"#fff"},{"offset":0.1785,"color":"#fff"},{"offset":0.182,"color":"#000"},{"offset":0.1855,"color":"#fff"},{"offset":0.2065,"color":"#fff"},{"offset":0.21,"color":"#000"},{"offset":0.2135,"color":"#fff"},{"offset":0.2345,"color":"#fff"},{"offset":0.238,"color":"#000"},{"offset":0.2415,"color":"#fff"},{"offset":0.2625,"color":"#fff"},{"offset":0.266,"color":"#000"},{"offset":0.2695,"color":"#fff"},{"offset":0.2905,"color":"#fff"},{"offset":0.294,"color":"#000"},{"offset":0.2975,"color":"#fff"},{"offset":0.3185,"color":"#fff"},{"offset":0.322,"color":"#000"},{"offset":0.3255,"color":"#fff"},{"offset":0.3465,"color":"#fff"},{"offset":0.35,"color":"#000"},{"offset":0.3535,"color":"#fff"},{"offset":0.3745,"color":"#fff"},{"offset":0.378,"color":"#000"},{"offset":0.3815,"color":"#fff"},{"offset":0.4025,"color":"#fff"},{"offset":0.406,"color":"#000"},{"offset":0.4095,"color":"#fff"},{"offset":0.4305,"color":"#fff"},{"offset":0.434,"color":"#000"},{"offset":0.4375,"color":"#fff"}
]}},
   "encoding": {"x": {"field": "group", "type": "nominal", "scale": {"type": "band", "domain": ["Control", "K-ras tmΔ4A/+", "K-ras tmΔ4A/tmΔ4A"], "paddingInner": 0.6, "paddingOuter": 0.345, "align": 0.524}, "axis": null},
    "y": {"field": "value", "type": "quantitative", "scale": {"domain": [-1.17, 50], "nice": false, "zero": false}, "axis": {"title": "Tumour volume (Relative value )", "values": [0, 5, 10, 15, 20, 25, 30, 35, 40, 45, 50], "titlePadding": 12}},
    "y2": {"datum": 0}}},
  {"transform": [{"filter": "datum.group === 'K-ras tmΔ4A/+'"}], "mark": {"type": "bar", "stroke": "black", "strokeWidth": 1.6, "fill": {"gradient": "linear", "x1": 0, "y1": 0, "x2": 1.23177, "y2": 2.84515, "stops": [
{"offset":0.0105,"color":"#fff"},{"offset":0.014,"color":"rgba(255,255,255,0)"},{"offset":0.0175,"color":"#fff"},{"offset":0.0385,"color":"#fff"},{"offset":0.042,"color":"rgba(255,255,255,0)"},{"offset":0.0455,"color":"#fff"},{"offset":0.0665,"color":"#fff"},{"offset":0.07,"color":"rgba(255,255,255,0)"},{"offset":0.0735,"color":"#fff"},{"offset":0.0945,"color":"#fff"},{"offset":0.098,"color":"rgba(255,255,255,0)"},{"offset":0.1015,"color":"#fff"},{"offset":0.1225,"color":"#fff"},{"offset":0.126,"color":"rgba(255,255,255,0)"},{"offset":0.1295,"color":"#fff"},{"offset":0.1505,"color":"#fff"},{"offset":0.154,"color":"rgba(255,255,255,0)"},{"offset":0.1575,"color":"#fff"},{"offset":0.1785,"color":"#fff"},{"offset":0.182,"color":"rgba(255,255,255,0)"},{"offset":0.1855,"color":"#fff"},{"offset":0.2065,"color":"#fff"},{"offset":0.21,"color":"rgba(255,255,255,0)"},{"offset":0.2135,"color":"#fff"},{"offset":0.2345,"color":"#fff"},{"offset":0.238,"color":"rgba(255,255,255,0)"},{"offset":0.2415,"color":"#fff"},{"offset":0.2625,"color":"#fff"},{"offset":0.266,"color":"rgba(255,255,255,0)"},{"offset":0.2695,"color":"#fff"},{"offset":0.2905,"color":"#fff"},{"offset":0.294,"color":"rgba(255,255,255,0)"},{"offset":0.2975,"color":"#fff"},{"offset":0.3185,"color":"#fff"},{"offset":0.322,"color":"rgba(255,255,255,0)"},{"offset":0.3255,"color":"#fff"},{"offset":0.3465,"color":"#fff"},{"offset":0.35,"color":"rgba(255,255,255,0)"},{"offset":0.3535,"color":"#fff"},{"offset":0.3745,"color":"#fff"},{"offset":0.378,"color":"rgba(255,255,255,0)"},{"offset":0.3815,"color":"#fff"},{"offset":0.4025,"color":"#fff"},{"offset":0.406,"color":"rgba(255,255,255,0)"},{"offset":0.4095,"color":"#fff"},{"offset":0.4305,"color":"#fff"},{"offset":0.434,"color":"rgba(255,255,255,0)"},{"offset":0.4375,"color":"#fff"}
]}},
   "encoding": {"x": {"field": "group", "type": "nominal", "scale": {"type": "band", "domain": ["Control", "K-ras tmΔ4A/+", "K-ras tmΔ4A/tmΔ4A"], "paddingInner": 0.6, "paddingOuter": 0.345, "align": 0.524}, "axis": null},
    "y": {"field": "value", "type": "quantitative", "scale": {"domain": [-1.17, 50], "nice": false, "zero": false}, "axis": {"title": "Tumour volume (Relative value )", "values": [0, 5, 10, 15, 20, 25, 30, 35, 40, 45, 50], "titlePadding": 12}},
    "y2": {"datum": 0}}},
  {"transform": [{"filter": "datum.group === 'K-ras tmΔ4A/tmΔ4A'"}], "mark": {"type": "bar", "stroke": "black", "strokeWidth": 1.6, "fill": {"gradient": "linear", "x1": 0, "y1": 0, "x2": 0.25641, "y2": 1.39108, "stops": [
{"offset":0,"color":"#333"},{"offset":0.005,"color":"#fff"},{"offset":0.01,"color":"#333"},{"offset":0.015,"color":"#fff"},{"offset":0.02,"color":"#333"},{"offset":0.025,"color":"#fff"},{"offset":0.03,"color":"#333"},{"offset":0.035,"color":"#fff"},{"offset":0.04,"color":"#333"},{"offset":0.045,"color":"#fff"},{"offset":0.05,"color":"#333"},{"offset":0.055,"color":"#fff"},{"offset":0.06,"color":"#333"},{"offset":0.065,"color":"#fff"},{"offset":0.07,"color":"#333"},{"offset":0.075,"color":"#fff"},{"offset":0.08,"color":"#333"},{"offset":0.085,"color":"#fff"},{"offset":0.09,"color":"#333"},{"offset":0.095,"color":"#fff"},
{"offset":0.1,"color":"#333"},{"offset":0.105,"color":"#fff"},{"offset":0.11,"color":"#333"},{"offset":0.115,"color":"#fff"},{"offset":0.12,"color":"#333"},{"offset":0.125,"color":"#fff"},{"offset":0.13,"color":"#333"},{"offset":0.135,"color":"#fff"},{"offset":0.14,"color":"#333"},{"offset":0.145,"color":"#fff"},{"offset":0.15,"color":"#333"},{"offset":0.155,"color":"#fff"},{"offset":0.16,"color":"#333"},{"offset":0.165,"color":"#fff"},{"offset":0.17,"color":"#333"},{"offset":0.175,"color":"#fff"},{"offset":0.18,"color":"#333"},{"offset":0.185,"color":"#fff"},{"offset":0.19,"color":"#333"},{"offset":0.195,"color":"#fff"},
{"offset":0.2,"color":"#333"},{"offset":0.205,"color":"#fff"},{"offset":0.21,"color":"#333"},{"offset":0.215,"color":"#fff"},{"offset":0.22,"color":"#333"},{"offset":0.225,"color":"#fff"},{"offset":0.23,"color":"#333"},{"offset":0.235,"color":"#fff"},{"offset":0.24,"color":"#333"},{"offset":0.245,"color":"#fff"},{"offset":0.25,"color":"#333"},{"offset":0.255,"color":"#fff"},{"offset":0.26,"color":"#333"},{"offset":0.265,"color":"#fff"},{"offset":0.27,"color":"#333"},{"offset":0.275,"color":"#fff"},{"offset":0.28,"color":"#333"},{"offset":0.285,"color":"#fff"},{"offset":0.29,"color":"#333"},{"offset":0.295,"color":"#fff"},
{"offset":0.3,"color":"#333"},{"offset":0.305,"color":"#fff"},{"offset":0.31,"color":"#333"},{"offset":0.315,"color":"#fff"},{"offset":0.32,"color":"#333"},{"offset":0.325,"color":"#fff"},{"offset":0.33,"color":"#333"},{"offset":0.335,"color":"#fff"},{"offset":0.34,"color":"#333"},{"offset":0.345,"color":"#fff"},{"offset":0.35,"color":"#333"},{"offset":0.355,"color":"#fff"},{"offset":0.36,"color":"#333"},{"offset":0.365,"color":"#fff"},{"offset":0.37,"color":"#333"},{"offset":0.375,"color":"#fff"},{"offset":0.38,"color":"#333"},{"offset":0.385,"color":"#fff"},{"offset":0.39,"color":"#333"},{"offset":0.395,"color":"#fff"},
{"offset":0.4,"color":"#333"},{"offset":0.405,"color":"#fff"},{"offset":0.41,"color":"#333"},{"offset":0.415,"color":"#fff"},{"offset":0.42,"color":"#333"},{"offset":0.425,"color":"#fff"},{"offset":0.43,"color":"#333"},{"offset":0.435,"color":"#fff"},{"offset":0.44,"color":"#333"},{"offset":0.445,"color":"#fff"},{"offset":0.45,"color":"#333"},{"offset":0.455,"color":"#fff"},{"offset":0.46,"color":"#333"},{"offset":0.465,"color":"#fff"},{"offset":0.47,"color":"#333"},{"offset":0.475,"color":"#fff"},{"offset":0.48,"color":"#333"},{"offset":0.485,"color":"#fff"},{"offset":0.49,"color":"#333"},{"offset":0.495,"color":"#fff"},
{"offset":0.5,"color":"#333"},{"offset":0.505,"color":"#fff"},{"offset":0.51,"color":"#333"},{"offset":0.515,"color":"#fff"},{"offset":0.52,"color":"#333"},{"offset":0.525,"color":"#fff"},{"offset":0.53,"color":"#333"},{"offset":0.535,"color":"#fff"},{"offset":0.54,"color":"#333"},{"offset":0.545,"color":"#fff"},{"offset":0.55,"color":"#333"},{"offset":0.555,"color":"#fff"},{"offset":0.56,"color":"#333"},{"offset":0.565,"color":"#fff"},{"offset":0.57,"color":"#333"},{"offset":0.575,"color":"#fff"},{"offset":0.58,"color":"#333"},{"offset":0.585,"color":"#fff"},{"offset":0.59,"color":"#333"},{"offset":0.595,"color":"#fff"},
{"offset":0.6,"color":"#333"},{"offset":0.605,"color":"#fff"},{"offset":0.61,"color":"#333"},{"offset":0.615,"color":"#fff"},{"offset":0.62,"color":"#333"},{"offset":0.625,"color":"#fff"},{"offset":0.63,"color":"#333"},{"offset":0.635,"color":"#fff"},{"offset":0.64,"color":"#333"},{"offset":0.645,"color":"#fff"},{"offset":0.65,"color":"#333"},{"offset":0.655,"color":"#fff"},{"offset":0.66,"color":"#333"},{"offset":0.665,"color":"#fff"},{"offset":0.67,"color":"#333"},{"offset":0.675,"color":"#fff"},{"offset":0.68,"color":"#333"},{"offset":0.685,"color":"#fff"},{"offset":0.69,"color":"#333"},{"offset":0.695,"color":"#fff"},
{"offset":0.7,"color":"#333"},{"offset":0.705,"color":"#fff"},{"offset":0.71,"color":"#333"},{"offset":0.715,"color":"#fff"},{"offset":0.72,"color":"#333"},{"offset":0.725,"color":"#fff"},{"offset":0.73,"color":"#333"},{"offset":0.735,"color":"#fff"},{"offset":0.74,"color":"#333"},{"offset":0.745,"color":"#fff"},{"offset":0.75,"color":"#333"},{"offset":0.755,"color":"#fff"},{"offset":0.76,"color":"#333"},{"offset":0.765,"color":"#fff"},{"offset":0.77,"color":"#333"},{"offset":0.775,"color":"#fff"},{"offset":0.78,"color":"#333"},{"offset":0.785,"color":"#fff"},{"offset":0.79,"color":"#333"},{"offset":0.795,"color":"#fff"},
{"offset":0.8,"color":"#333"},{"offset":0.805,"color":"#fff"},{"offset":0.81,"color":"#333"},{"offset":0.815,"color":"#fff"},{"offset":0.82,"color":"#333"},{"offset":0.825,"color":"#fff"},{"offset":0.83,"color":"#333"}
]}},
   "encoding": {"x": {"field": "group", "type": "nominal", "scale": {"type": "band", "domain": ["Control", "K-ras tmΔ4A/+", "K-ras tmΔ4A/tmΔ4A"], "paddingInner": 0.6, "paddingOuter": 0.345, "align": 0.524}, "axis": null},
    "y": {"field": "value", "type": "quantitative", "scale": {"domain": [-1.17, 50], "nice": false, "zero": false}, "axis": {"title": "Tumour volume (Relative value )", "values": [0, 5, 10, 15, 20, 25, 30, 35, 40, 45, 50], "titlePadding": 12}},
    "y2": {"datum": 0}}},
  {"transform": [{"aggregate": [{"op": "count", "as": "n"}]}], "mark": {"type": "rule", "color": "black", "strokeWidth": 1.3},
   "encoding": {"y": {"datum": 0, "type": "quantitative", "scale": {"domain": [-1.17, 50], "nice": false, "zero": false}, "axis": {"title": "Tumour volume (Relative value )", "values": [0, 5, 10, 15, 20, 25, 30, 35, 40, 45, 50], "titlePadding": 12}}}},
  {"transform": [{"aggregate": [{"op": "count", "as": "n"}]}], "mark": {"type": "text", "text": "C", "font": "Liberation Sans", "align": "left", "dx": -139.9, "dy": 9},
   "encoding": {"x": {"datum": "Control", "type": "nominal", "scale": {"type": "band", "domain": ["Control", "K-ras tmΔ4A/+", "K-ras tmΔ4A/tmΔ4A"], "paddingInner": 0.6, "paddingOuter": 0.345, "align": 0.524}, "axis": null},
    "y": {"datum": 50, "type": "quantitative", "scale": {"domain": [-1.17, 50], "nice": false, "zero": false}, "axis": {"title": "Tumour volume (Relative value )", "values": [0, 5, 10, 15, 20, 25, 30, 35, 40, 45, 50], "titlePadding": 12}}}},
  {"data": {"name": "genotypes"}, "transform": [{"filter": "datum.group === 'Control'"}], "mark": {"type": "text", "align": "center", "dy": 28},
   "encoding": {"x": {"field": "group", "type": "nominal", "scale": {"type": "band", "domain": ["Control", "K-ras tmΔ4A/+", "K-ras tmΔ4A/tmΔ4A"], "paddingInner": 0.6, "paddingOuter": 0.345, "align": 0.524}, "axis": null},
    "y": {"datum": 0, "type": "quantitative", "scale": {"domain": [-1.17, 50], "nice": false, "zero": false}, "axis": {"title": "Tumour volume (Relative value )", "values": [0, 5, 10, 15, 20, 25, 30, 35, 40, 45, 50], "titlePadding": 12}}, "text": {"field": "prefix"}}},
  {"data": {"name": "genotypes"}, "transform": [{"filter": "datum.group === 'K-ras tmΔ4A/+'"}], "mark": {"type": "text", "align": "left", "dx": -45.8, "dy": 28},
   "encoding": {"x": {"field": "group", "type": "nominal", "scale": {"type": "band", "domain": ["Control", "K-ras tmΔ4A/+", "K-ras tmΔ4A/tmΔ4A"], "paddingInner": 0.6, "paddingOuter": 0.345, "align": 0.524}, "axis": null},
    "y": {"datum": 0, "type": "quantitative", "scale": {"domain": [-1.17, 50], "nice": false, "zero": false}, "axis": {"title": "Tumour volume (Relative value )", "values": [0, 5, 10, 15, 20, 25, 30, 35, 40, 45, 50], "titlePadding": 12}}, "text": {"field": "prefix"}}},
  {"data": {"name": "genotypes"}, "transform": [{"filter": "datum.group === 'K-ras tmΔ4A/+'"}], "mark": {"type": "text", "align": "left", "fontStyle": "italic", "dx": -27.9, "dy": 28},
   "encoding": {"x": {"field": "group", "type": "nominal", "scale": {"type": "band", "domain": ["Control", "K-ras tmΔ4A/+", "K-ras tmΔ4A/tmΔ4A"], "paddingInner": 0.6, "paddingOuter": 0.345, "align": 0.524}, "axis": null},
    "y": {"datum": 0, "type": "quantitative", "scale": {"domain": [-1.17, 50], "nice": false, "zero": false}, "axis": {"title": "Tumour volume (Relative value )", "values": [0, 5, 10, 15, 20, 25, 30, 35, 40, 45, 50], "titlePadding": 12}}, "text": {"field": "gene"}}},
  {"data": {"name": "genotypes"}, "transform": [{"filter": "datum.group === 'K-ras tmΔ4A/+'"}], "mark": {"type": "text", "align": "left", "fontStyle": "italic", "fontSize": 13, "dx": -5.2, "dy": 23.5},
   "encoding": {"x": {"field": "group", "type": "nominal", "scale": {"type": "band", "domain": ["Control", "K-ras tmΔ4A/+", "K-ras tmΔ4A/tmΔ4A"], "paddingInner": 0.6, "paddingOuter": 0.345, "align": 0.524}, "axis": null},
    "y": {"datum": 0, "type": "quantitative", "scale": {"domain": [-1.17, 50], "nice": false, "zero": false}, "axis": {"title": "Tumour volume (Relative value )", "values": [0, 5, 10, 15, 20, 25, 30, 35, 40, 45, 50], "titlePadding": 12}}, "text": {"field": "sup"}}},
  {"data": {"name": "genotypes"}, "transform": [{"filter": "datum.group === 'K-ras tmΔ4A/tmΔ4A'"}], "mark": {"type": "text", "align": "left", "dx": -60.75, "dy": 28},
   "encoding": {"x": {"field": "group", "type": "nominal", "scale": {"type": "band", "domain": ["Control", "K-ras tmΔ4A/+", "K-ras tmΔ4A/tmΔ4A"], "paddingInner": 0.6, "paddingOuter": 0.345, "align": 0.524}, "axis": null},
    "y": {"datum": 0, "type": "quantitative", "scale": {"domain": [-1.17, 50], "nice": false, "zero": false}, "axis": {"title": "Tumour volume (Relative value )", "values": [0, 5, 10, 15, 20, 25, 30, 35, 40, 45, 50], "titlePadding": 12}}, "text": {"field": "prefix"}}},
  {"data": {"name": "genotypes"}, "transform": [{"filter": "datum.group === 'K-ras tmΔ4A/tmΔ4A'"}], "mark": {"type": "text", "align": "left", "fontStyle": "italic", "dx": -42.85, "dy": 28},
   "encoding": {"x": {"field": "group", "type": "nominal", "scale": {"type": "band", "domain": ["Control", "K-ras tmΔ4A/+", "K-ras tmΔ4A/tmΔ4A"], "paddingInner": 0.6, "paddingOuter": 0.345, "align": 0.524}, "axis": null},
    "y": {"datum": 0, "type": "quantitative", "scale": {"domain": [-1.17, 50], "nice": false, "zero": false}, "axis": {"title": "Tumour volume (Relative value )", "values": [0, 5, 10, 15, 20, 25, 30, 35, 40, 45, 50], "titlePadding": 12}}, "text": {"field": "gene"}}},
  {"data": {"name": "genotypes"}, "transform": [{"filter": "datum.group === 'K-ras tmΔ4A/tmΔ4A'"}], "mark": {"type": "text", "align": "left", "fontStyle": "italic", "fontSize": 13, "dx": -20.15, "dy": 23.5},
   "encoding": {"x": {"field": "group", "type": "nominal", "scale": {"type": "band", "domain": ["Control", "K-ras tmΔ4A/+", "K-ras tmΔ4A/tmΔ4A"], "paddingInner": 0.6, "paddingOuter": 0.345, "align": 0.524}, "axis": null},
    "y": {"datum": 0, "type": "quantitative", "scale": {"domain": [-1.17, 50], "nice": false, "zero": false}, "axis": {"title": "Tumour volume (Relative value )", "values": [0, 5, 10, 15, 20, 25, 30, 35, 40, 45, 50], "titlePadding": 12}}, "text": {"field": "sup"}}}
 ]},
 {"width": 619, "height": 317, "data": {"name": "survival"}, "resolve": {"scale": {"x": "independent"}}, "layer": [
  {"transform": [{"aggregate": [{"op": "count", "as": "n"}]}], "mark": {"type": "rule", "color": "black", "strokeWidth": 2.5, "yOffset": -33.7},
   "encoding": {"y": {"datum": "Weeks", "type": "nominal", "scale": {"type": "band", "domain": ["Weeks", "Control", "K-ras tmΔ4A/+", "K-ras tmΔ4A/tmΔ4A"], "paddingInner": 0, "paddingOuter": 0.811, "align": 1}, "axis": null}}},
  {"transform": [{"aggregate": [{"op": "count", "as": "n"}]}], "mark": {"type": "rule", "color": "black", "strokeWidth": 2.5, "yOffset": -25.7},
   "encoding": {"y": {"datum": "Control", "type": "nominal", "scale": {"type": "band", "domain": ["Weeks", "Control", "K-ras tmΔ4A/+", "K-ras tmΔ4A/tmΔ4A"], "paddingInner": 0, "paddingOuter": 0.811, "align": 1}, "axis": null}}},
  {"transform": [{"aggregate": [{"op": "count", "as": "n"}]}], "mark": {"type": "text", "text": "Mouse survival after starting DMH treatment", "font": "Liberation Sans", "fontSize": 22, "fontWeight": "bold", "align": "center", "dx": -3.5, "dy": -66.7},
   "encoding": {"y": {"datum": "Weeks", "type": "nominal", "scale": {"type": "band", "domain": ["Weeks", "Control", "K-ras tmΔ4A/+", "K-ras tmΔ4A/tmΔ4A"], "paddingInner": 0, "paddingOuter": 0.811, "align": 1}, "axis": null}}},
  {"transform": [{"aggregate": [{"op": "count", "as": "n"}]}], "mark": {"type": "text", "text": "D", "font": "Liberation Sans", "align": "left", "dx": 6.3, "dy": -110.7},
   "encoding": {"x": {"datum": "label", "type": "ordinal", "scale": {"type": "point", "domain": ["label", "0", "23", "30", "36", "40", "46"], "padding": 0.3323, "align": 0.562}, "axis": null},
    "y": {"datum": "Weeks", "type": "nominal", "scale": {"type": "band", "domain": ["Weeks", "Control", "K-ras tmΔ4A/+", "K-ras tmΔ4A/tmΔ4A"], "paddingInner": 0, "paddingOuter": 0.811, "align": 1}, "axis": null}}},
  {"transform": [{"aggregate": [{"op": "count", "as": "n"}]}], "mark": {"type": "text", "text": "Weeks", "align": "left", "dx": -18.7, "dy": 5.7},
   "encoding": {"x": {"datum": "label", "type": "ordinal", "scale": {"type": "point", "domain": ["label", "0", "23", "30", "36", "40", "46"], "padding": 0.3323, "align": 0.562}, "axis": null},
    "y": {"datum": "Weeks", "type": "nominal", "scale": {"type": "band", "domain": ["Weeks", "Control", "K-ras tmΔ4A/+", "K-ras tmΔ4A/tmΔ4A"], "paddingInner": 0, "paddingOuter": 0.811, "align": 1}, "axis": null}}},
  {"transform": [{"aggregate": [{"op": "count", "as": "n"}], "groupby": ["week"]}], "mark": {"type": "text", "align": "center", "dy": 5.7},
   "encoding": {"x": {"field": "week", "type": "ordinal", "scale": {"type": "point", "domain": ["label", "0", "23", "30", "36", "40", "46"], "padding": 0.509, "align": 0.404}, "axis": null},
    "y": {"datum": "Weeks", "type": "nominal", "scale": {"type": "band", "domain": ["Weeks", "Control", "K-ras tmΔ4A/+", "K-ras tmΔ4A/tmΔ4A"], "paddingInner": 0, "paddingOuter": 0.811, "align": 1}, "axis": null},
    "text": {"field": "week"}}},
  {"mark": {"type": "text", "align": "center", "dy": 5.7},
   "encoding": {"x": {"field": "week", "type": "ordinal", "scale": {"type": "point", "domain": ["label", "0", "23", "30", "36", "40", "46"], "padding": 0.3323, "align": 0.562}, "axis": null},
    "y": {"field": "group", "type": "nominal", "scale": {"type": "band", "domain": ["Weeks", "Control", "K-ras tmΔ4A/+", "K-ras tmΔ4A/tmΔ4A"], "paddingInner": 0, "paddingOuter": 0.811, "align": 1}, "axis": null},
    "text": {"field": "cell"}}},
  {"data": {"name": "genotypes"}, "transform": [{"filter": "datum.group === 'Control'"}], "mark": {"type": "text", "align": "left", "dx": -22.2, "dy": 5.7},
   "encoding": {"x": {"datum": "label", "type": "ordinal", "scale": {"type": "point", "domain": ["label", "0", "23", "30", "36", "40", "46"], "padding": 0.3323, "align": 0.562}, "axis": null},
    "y": {"field": "group", "type": "nominal", "scale": {"type": "band", "domain": ["Weeks", "Control", "K-ras tmΔ4A/+", "K-ras tmΔ4A/tmΔ4A"], "paddingInner": 0, "paddingOuter": 0.811, "align": 1}, "axis": null},
    "text": {"field": "prefix"}}},
  {"data": {"name": "genotypes"}, "transform": [{"filter": "datum.group !== 'Control'"}], "mark": {"type": "text", "align": "left", "dx": -27.7, "dy": 5.7},
   "encoding": {"x": {"datum": "label", "type": "ordinal", "scale": {"type": "point", "domain": ["label", "0", "23", "30", "36", "40", "46"], "padding": 0.3323, "align": 0.562}, "axis": null},
    "y": {"field": "group", "type": "nominal", "scale": {"type": "band", "domain": ["Weeks", "Control", "K-ras tmΔ4A/+", "K-ras tmΔ4A/tmΔ4A"], "paddingInner": 0, "paddingOuter": 0.811, "align": 1}, "axis": null},
    "text": {"field": "prefix"}}},
  {"data": {"name": "genotypes"}, "transform": [{"filter": "datum.group !== 'Control'"}], "mark": {"type": "text", "align": "left", "fontStyle": "italic", "dx": -9.8, "dy": 5.7},
   "encoding": {"x": {"datum": "label", "type": "ordinal", "scale": {"type": "point", "domain": ["label", "0", "23", "30", "36", "40", "46"], "padding": 0.3323, "align": 0.562}, "axis": null},
    "y": {"field": "group", "type": "nominal", "scale": {"type": "band", "domain": ["Weeks", "Control", "K-ras tmΔ4A/+", "K-ras tmΔ4A/tmΔ4A"], "paddingInner": 0, "paddingOuter": 0.811, "align": 1}, "axis": null},
    "text": {"field": "gene"}}},
  {"data": {"name": "genotypes"}, "transform": [{"filter": "datum.group !== 'Control'"}], "mark": {"type": "text", "align": "left", "fontStyle": "italic", "fontSize": 11, "dx": 12.4, "dy": -1.3},
   "encoding": {"x": {"datum": "label", "type": "ordinal", "scale": {"type": "point", "domain": ["label", "0", "23", "30", "36", "40", "46"], "padding": 0.3323, "align": 0.562}, "axis": null},
    "y": {"field": "group", "type": "nominal", "scale": {"type": "band", "domain": ["Weeks", "Control", "K-ras tmΔ4A/+", "K-ras tmΔ4A/tmΔ4A"], "paddingInner": 0, "paddingOuter": 0.811, "align": 1}, "axis": null},
    "text": {"field": "sup"}}}
 ]}
]}
]
}
